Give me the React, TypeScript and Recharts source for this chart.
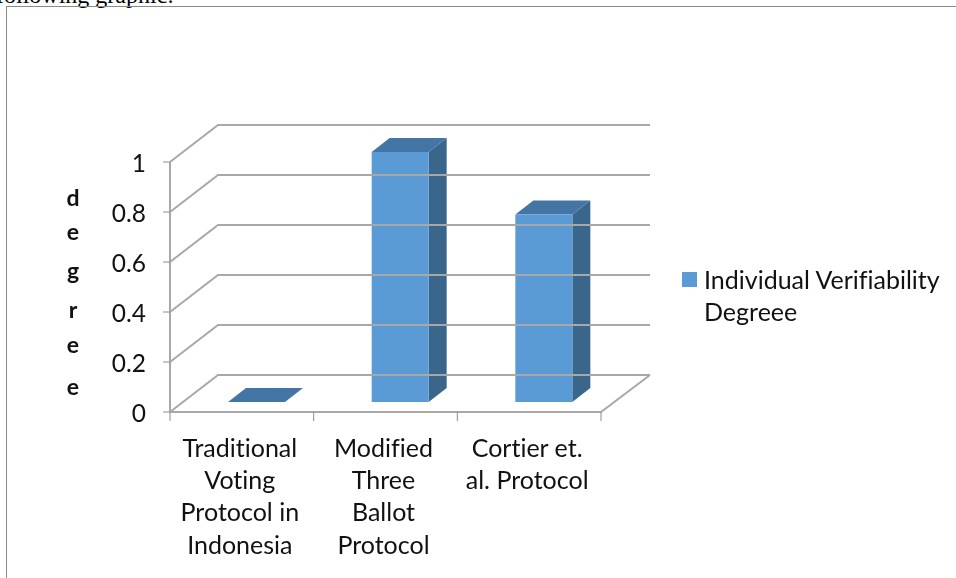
import { Bar, BarChart, Legend, XAxis, YAxis } from "recharts";

const categoryLines = [
  ["Traditional", "Voting", "Protocol in", "Indonesia"],
  ["Modified", "Three", "Ballot", "Protocol"],
  ["Cortier et.", "al. Protocol"],
];
const degreeValues = [0, 1, 0.75];
const yTicks = [0, 0.2, 0.4, 0.6, 0.8, 1];
const seriesName = "Individual Verifiability Degreee";
const axisLetters = ["d", "e", "g", "r", "e", "e"];
const axisLetterY = [198, 232, 271, 310, 345, 387];

const data = categoryLines.map((lines, i) => ({ name: lines.join(" "), value: degreeValues[i] }));

const FONT = "Lato, 'Noto Sans', sans-serif";
const GRID = "#a8a8a8";
const PLOT_LEFT = 170;
const PLOT_RIGHT = 601;
const BAND = (PLOT_RIGHT - PLOT_LEFT) / categoryLines.length;
const DEPTH_X = 48;
const DEPTH_Y = 37;

function YTick({ y, payload }: any) {
  const backX = PLOT_LEFT + DEPTH_X;
  return (
    <g>
      <path d={`M${PLOT_LEFT} ${y}L${backX} ${y - DEPTH_Y}L650 ${y - DEPTH_Y}`} fill="none" stroke={GRID} strokeWidth={2} />
      <line x1={163} x2={PLOT_LEFT} y1={y} y2={y} stroke="#8c8c8c" strokeWidth={1} />
      {payload.value === 0 && (
        <path d={`M${PLOT_LEFT} ${y}L${PLOT_RIGHT} ${y}L650 ${y - DEPTH_Y}`} fill="none" stroke={GRID} strokeWidth={2} />
      )}
      <text x={146} y={y + 10} textAnchor="end" fontFamily={FONT} fontSize={24.5} fill="#111">
        {payload.value}
      </text>
    </g>
  );
}

function XTick({ x, index }: any) {
  const left = x - BAND / 2;
  return (
    <g>
      <line x1={left} x2={left} y1={412} y2={421} stroke="#8c8c8c" />
      {index === categoryLines.length - 1 && <line x1={left + BAND} x2={left + BAND} y1={412} y2={421} stroke="#8c8c8c" />}
      <text textAnchor="middle" fontFamily={FONT} fontSize={25} fill="#111" style={{ fontVariantLigatures: "none" }}>
        {categoryLines[index].map((line, i) => (
          <tspan key={i} x={x - 2} y={457 + i * 32.2}>{line}</tspan>
        ))}
      </text>
    </g>
  );
}

// box sits in the middle of the floor depth, so the front face is shifted back a bit
function Box3D({ x, y, width, height }: any) {
  const fx = x + 15;
  const fy = y - 10;
  const dx = 18;
  const dy = 14;
  const r = fx + width;
  const b = fy + height;
  return (
    <g>
      <path d={`M${r} ${fy}L${r + dx} ${fy - dy}L${r + dx} ${b - dy}L${r} ${b}Z`} fill="#3a668c" />
      <path d={`M${fx} ${fy}L${fx + dx} ${fy - dy}L${r + dx} ${fy - dy}L${r} ${fy}Z`} fill="#4476a5" />
      {height > 0 && <rect x={fx} y={fy} width={width} height={height} fill="#5b9bd5" />}
    </g>
  );
}

function LegendBox({ payload }: any) {
  const item = payload?.[0];
  return (
    <div style={{ display: "flex", fontFamily: FONT, fontSize: 25, lineHeight: "32px", color: "#111", fontVariantLigatures: "none" }}>
      <span style={{ width: 15, height: 15, background: "#5b9bd5", marginTop: 9, marginRight: 7, flex: "none" }} />
      <span>{item?.value}</span>
    </div>
  );
}

function DegreeLabel() {
  return (
    <text textAnchor="middle" fontFamily={FONT} fontWeight={700} fontSize={23} fill="#111">
      {axisLetters.map((c, i) => (
        <tspan key={i} x={73} y={axisLetterY[i] + 8}>{c}</tspan>
      ))}
    </text>
  );
}

export default function App() {
  return (
    <div style={{ position: "absolute", left: 0, top: 0, width: 956, height: 578, overflow: "hidden", background: "#fff" }}>
      <div style={{ position: "absolute", left: -4, top: -18, fontFamily: "'Liberation Serif', serif", fontSize: 24, whiteSpace: "nowrap", color: "#000" }}>
        following graphic:
      </div>
      <div style={{ position: "absolute", left: 6, top: 6, width: 980, height: 600, border: "1px solid #8a8a8a" }} />
      <div style={{ position: "absolute", left: 0, top: 0, filter: "blur(0.4px)" }}>
        <BarChart
          width={956}
          height={578}
          data={data}
          barSize={57}
          margin={{ top: 162, right: 355, bottom: 66, left: 70 }}
        >
          <YAxis
            type="number"
            domain={[0, 1]}
            ticks={yTicks}
            width={100}
            tick={<YTick />}
            tickLine={false}
            axisLine={{ stroke: GRID, strokeWidth: 2 }}
            label={{ content: <DegreeLabel /> }}
          />
          <XAxis dataKey="name" height={100} interval={0} tick={<XTick />} tickLine={false} axisLine={false} />
          <Bar dataKey="value" name={seriesName} fill="#5b9bd5" shape={<Box3D />} isAnimationActive={false} />
          <Legend
            layout="horizontal"
            verticalAlign="middle"
            wrapperStyle={{ left: 682, top: 263, width: 265 }}
            content={<LegendBox />}
          />
        </BarChart>
      </div>
    </div>
  );
}
